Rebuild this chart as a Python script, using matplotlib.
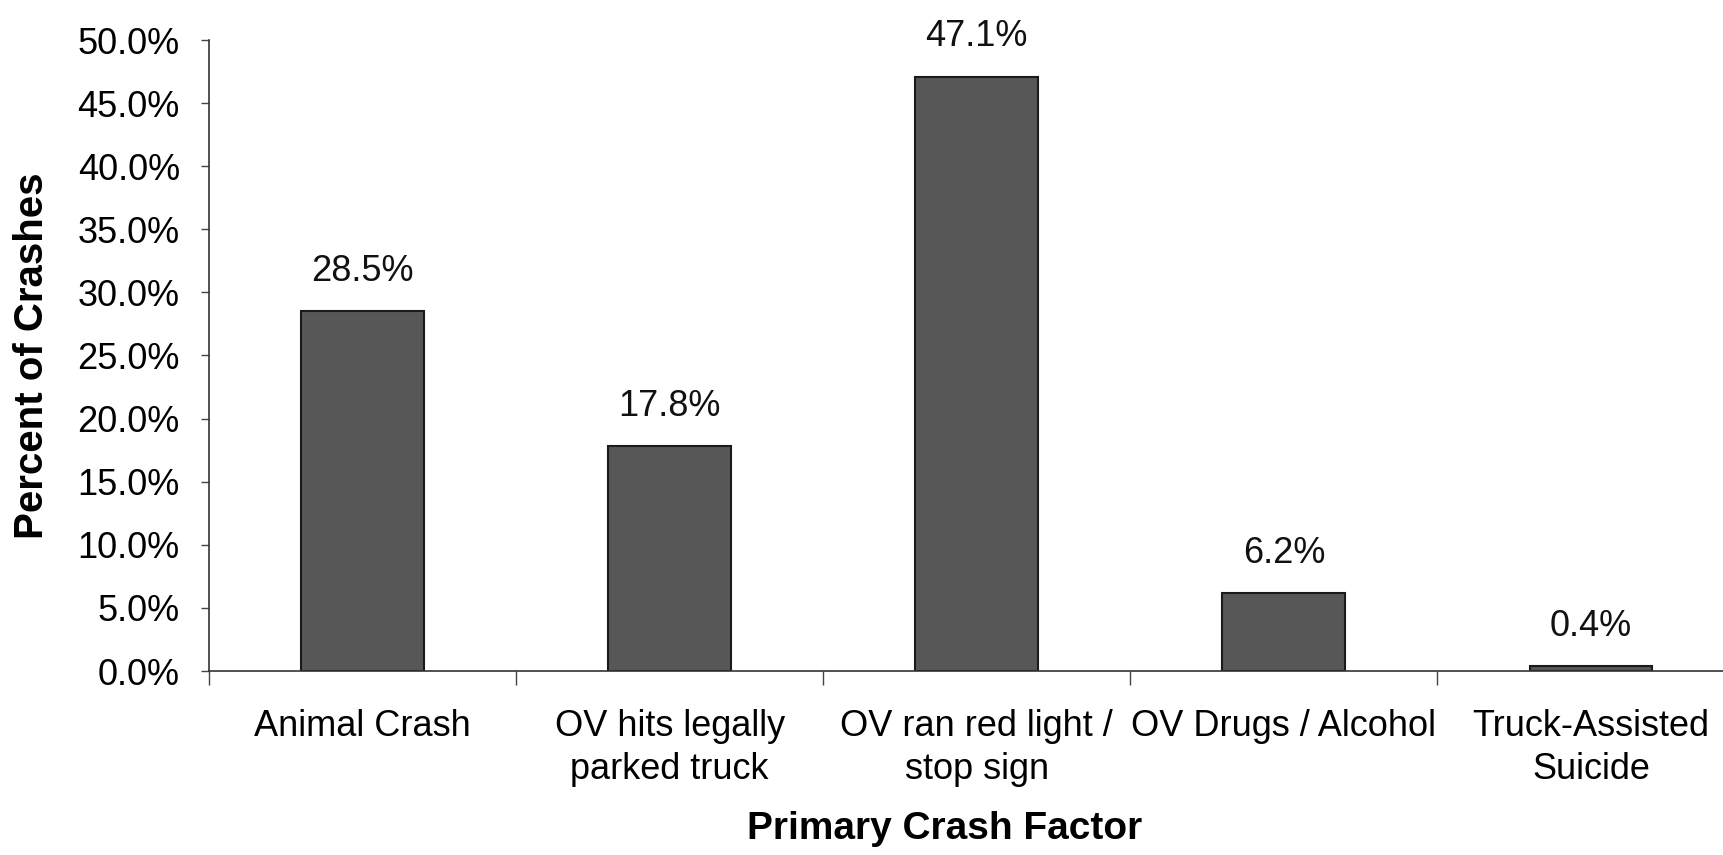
import matplotlib
matplotlib.use("Agg")
import matplotlib.pyplot as plt
from matplotlib.ticker import PercentFormatter, FixedLocator
import numpy as np

plt.rcParams['font.family'] = ['Liberation Sans', 'DejaVu Sans']

categories = ["Animal Crash", "OV hits legally\nparked truck", "OV ran red light /\nstop sign",
              "OV Drugs / Alcohol", "Truck-Assisted\nSuicide"]
percent = [28.5, 17.8, 47.1, 6.2, 0.4]
y_ticks = [0, 5, 10, 15, 20, 25, 30, 35, 40, 45, 50]

fig = plt.figure(figsize=(17.23, 8.55), dpi=100)
ax = fig.add_axes([209 / 1723, 1 - 671 / 855, 1 - 209 / 1723, (671 - 40) / 855])

x = np.arange(len(categories))
bars = ax.bar(x, percent, width=0.4, color='#575757', edgecolor='#1a1a1a', linewidth=1.5)
ax.bar_label(bars, fmt='%.1f%%', padding=16, fontsize=26, color='#111111')

ax.set_xlim(-0.5, 4.43)
ax.set_ylim(0, 50)
ax.set_yticks(y_ticks)
ax.yaxis.set_major_formatter(PercentFormatter(xmax=100, decimals=1))
ax.tick_params(axis='y', labelsize=26, length=6, width=1, pad=15, color='#444444')

ax.set_xticks(x)
ax.set_xticklabels(categories, fontsize=26, linespacing=1.3)
ax.xaxis.set_minor_locator(FixedLocator(np.arange(-0.5, 4.5, 1.0)))
ax.tick_params(axis='x', which='major', length=0, pad=27)
ax.tick_params(axis='x', which='minor', length=10, width=1, color='#444444')

for side in ['top', 'right']:
    ax.spines[side].set_visible(False)
for side in ['left', 'bottom']:
    ax.spines[side].set_color('#333333')
    ax.spines[side].set_linewidth(1.2)

ax.set_ylabel("Percent of Crashes", fontsize=29, fontweight='bold')
ax.yaxis.set_label_coords(-158 / 1514, 0.5)
ax.set_xlabel("Primary Crash Factor", fontsize=28, fontweight='bold')
ax.xaxis.set_label_coords((945 - 209) / 1514, -140 / 631)

fig.savefig("out.png", dpi=100)
